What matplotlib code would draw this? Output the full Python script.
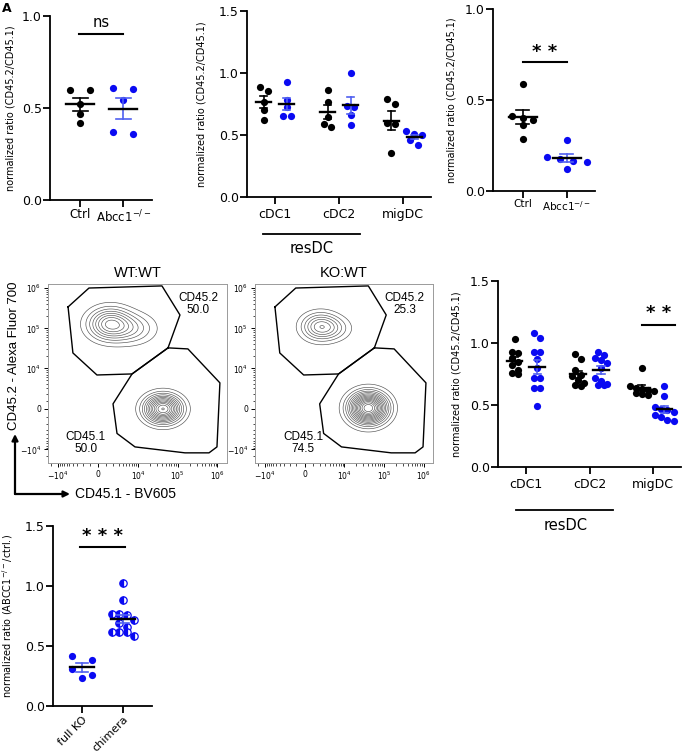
import numpy as np
import matplotlib.pyplot as plt

plt.rcParams['font.family'] = 'DejaVu Sans'

W, H = 682, 754
BLUE = '#0a0af2'
EBLUE = '#5060f0'

# ---- values ----
a_groups = ['Ctrl', 'Abcc1$^{-/-}$']
a_ctrl = [0.60, 0.598, 0.52, 0.47, 0.42]
a_ko = [0.607, 0.605, 0.543, 0.371, 0.357]

b_cats = ['cDC1', 'cDC2', 'migDC']
b_wt = [[0.885, 0.856, 0.77, 0.698, 0.622],
        [0.864, 0.77, 0.649, 0.588, 0.561],
        [0.794, 0.749, 0.596, 0.588, 0.354]]
b_ko = [[0.931, 0.783, 0.724, 0.657, 0.655],
        [0.998, 0.73, 0.728, 0.663, 0.582],
        [0.53, 0.51, 0.50, 0.46, 0.42]]

c_groups = ['Ctrl', 'Abcc1$^{-/-}$']
c_ctrl = [0.586, 0.41, 0.40, 0.39, 0.365, 0.286]
c_ko = [0.280, 0.189, 0.174, 0.165, 0.158, 0.121]

e_cats = ['cDC1', 'cDC2', 'migDC']
e_wt = [[1.03, 0.93, 0.92, 0.88, 0.85, 0.82, 0.78, 0.76, 0.75],
        [0.91, 0.87, 0.78, 0.74, 0.73, 0.70, 0.68, 0.66, 0.65],
        [0.80, 0.65, 0.64, 0.63, 0.62, 0.61, 0.60, 0.59, 0.58]]
e_ko = [[1.077, 1.04, 0.93, 0.93, 0.87, 0.80, 0.72, 0.715, 0.64, 0.64, 0.49],
        [0.93, 0.90, 0.88, 0.86, 0.84, 0.80, 0.72, 0.69, 0.67, 0.66, 0.66],
        [0.654, 0.57, 0.48, 0.47, 0.46, 0.44, 0.42, 0.40, 0.38, 0.37]]

f_groups = ['full KO', 'chimera']
f_full = [0.417, 0.386, 0.311, 0.256, 0.236]
f_chim = [1.025, 0.886, 0.764, 0.764, 0.756, 0.72, 0.694, 0.66, 0.617, 0.617, 0.617, 0.583]

# flow panels (arcsinh units, cofactor 2000)
flow_titles = ['WT:WT', 'KO:WT']
flow_hi = ['50.0', '25.3']
flow_lo = ['50.0', '74.5']
# populations: x, y, sx, sy, weight
flow_pops = [
    [(0.7, 4.85, 0.72, 0.52, 0.36), (1.9, 4.6, 0.8, 0.5, 0.14), (3.76, 0.0, 0.6, 0.45, 0.5)],
    [(0.9, 4.7, 0.62, 0.45, 0.20), (1.7, 4.6, 0.6, 0.4, 0.05), (3.7, 0.05, 0.62, 0.5, 0.75)],
]
gate_hi_x = [-1.73, -0.52, 3.70, 4.74, 4.05, 1.97, -0.06, -1.45, -1.73]
gate_hi_y = [5.83, 6.91, 7.03, 5.37, 3.49, 2.00, 1.94, 3.20, 5.83]
gate_lo_x = [4.05, 5.20, 7.05, 6.88, 6.42, 5.03, 2.14, 1.10, 0.87, 1.97, 4.05]
gate_lo_y = [3.49, 3.43, 1.49, -2.17, -2.51, -2.51, -2.17, -1.40, 0.29, 2.00, 3.49]

fig = plt.figure(figsize=(W / 100, H / 100), dpi=100)


def rect(l, t, r, b):
    return [l / W, 1 - b / H, (r - l) / W, (b - t) / H]


def style(ax, ylim, yticks, ylabel, lx):
    for s in ['top', 'right']:
        ax.spines[s].set_visible(False)
    for s in ['left', 'bottom']:
        ax.spines[s].set_linewidth(1.3)
    ax.set_ylim(*ylim)
    ax.set_yticks(yticks)
    ax.set_yticklabels(['%.1f' % t for t in yticks])
    ax.tick_params(length=5, width=1.3, labelsize=9, pad=1)
    ax.set_ylabel(ylabel, fontsize=7)
    ax.yaxis.set_label_coords(lx, 0.5)


def swarm(vals, spacing, thresh):
    order = np.argsort(vals)[::-1]
    offs = np.zeros(len(vals))
    i = 0
    while i < len(order):
        row = [order[i]]
        j = i + 1
        while j < len(order) and vals[order[i]] - vals[order[j]] < thresh:
            row.append(order[j])
            j += 1
        for k, idx in enumerate(row):
            offs[idx] = (k - (len(row) - 1) / 2) * spacing
        i = j
    return offs


def dots(ax, x, vals, color, spacing, thresh, half=False):
    v = np.asarray(vals, float)
    xs = x + swarm(v, spacing, thresh)
    if half:
        ax.plot(xs, v, 'o', ls='none', ms=5.3, fillstyle='left', mfc=color,
                mfcalt='white', mec=color, mew=0.9, zorder=3)
    else:
        ax.scatter(xs, v, s=27, color=color, linewidths=0, zorder=3)


def meanbar(ax, x, vals, mw, cw, ecolor):
    v = np.asarray(vals, float)
    m = v.mean()
    s = v.std(ddof=1) / np.sqrt(len(v))
    ax.plot([x, x], [m - s, m + s], color=ecolor, lw=1.2, zorder=5)
    for y in (m - s, m + s):
        ax.plot([x - cw / 2, x + cw / 2], [y, y], color=ecolor, lw=1.2, zorder=5)
    ax.plot([x - mw / 2, x + mw / 2], [m, m], color='k', lw=1.7, zorder=6)


def sig(ax, x0, x1, y, ty, txt, size):
    ax.plot([x0, x1], [y, y], color='k', lw=1.5, clip_on=False)
    ax.text((x0 + x1) / 2, ty, txt, ha='center', va='center', fontsize=size,
            fontweight='bold' if '*' in txt else 'normal')


ylab = 'normalized ratio (CD45.2/CD45.1)'

# ---- A ----
ax = fig.add_axes(rect(50, 16, 152, 200))
style(ax, (0, 1.0), [0, 0.5, 1.0], ylab, -0.34)
ax.set_xlim(-0.7, 1.67)
dots(ax, 0, a_ctrl, 'k', 0.46, 0.038)
dots(ax, 1, a_ko, BLUE, 0.46, 0.038)
meanbar(ax, 0, a_ctrl, 0.65, 0.35, 'k')
meanbar(ax, 1, a_ko, 0.65, 0.35, EBLUE)
ax.set_xticks([0, 1])
ax.set_xticklabels(a_groups, fontsize=8.5)
sig(ax, -0.02, 1.0, 0.90, 0.965, 'ns', 10.5)

# ---- B ----
ax = fig.add_axes(rect(247, 11, 431, 197))
style(ax, (0, 1.5), [0, 0.5, 1.0, 1.5], ylab, -0.22)
ax.set_xlim(-0.44, 2.44)
for i in range(3):
    dots(ax, i - 0.18, b_wt[i], 'k', 0.125, 0.056)
    dots(ax, i + 0.18, b_ko[i], BLUE, 0.125, 0.056)
    meanbar(ax, i - 0.18, b_wt[i], 0.23, 0.12, 'k')
    meanbar(ax, i + 0.18, b_ko[i], 0.23, 0.12, EBLUE)
ax.set_xticks(range(3))
ax.set_xticklabels(b_cats, fontsize=9)
ax.tick_params(axis='x', pad=3)
ax.plot([-0.19, 1.33], [-0.20, -0.20], transform=ax.get_xaxis_transform(),
        color='k', lw=1.3, clip_on=False)
ax.text(0.57, -0.275, 'resDC', transform=ax.get_xaxis_transform(),
        ha='center', va='center', fontsize=10.5)

# ---- C ----
ax = fig.add_axes(rect(493, 9, 595, 191))
style(ax, (0, 1.0), [0, 0.5, 1.0], ylab, -0.36)
ax.set_xlim(-0.68, 1.64)
dots(ax, 0, c_ctrl, 'k', 0.24, 0.038)
dots(ax, 1, c_ko, BLUE, 0.3, 0.038)
meanbar(ax, 0, c_ctrl, 0.64, 0.3, 'k')
meanbar(ax, 1, c_ko, 0.64, 0.3, EBLUE)
ax.set_xticks([0, 1])
ax.set_xticklabels(c_groups, fontsize=7.5)
sig(ax, 0, 1, 0.71, 0.765, '* *', 13)

# ---- E ----
ax = fig.add_axes(rect(498, 281, 681, 467))
style(ax, (0, 1.5), [0, 0.5, 1.0, 1.5], ylab, -0.20)
ax.set_xlim(-0.44, 2.44)
for i in range(3):
    dots(ax, i - 0.18, e_wt[i], 'k', 0.095, 0.05)
    dots(ax, i + 0.18, e_ko[i], BLUE, 0.095, 0.05)
    meanbar(ax, i - 0.18, e_wt[i], 0.25, 0.12, 'k')
    meanbar(ax, i + 0.18, e_ko[i], 0.25, 0.12, EBLUE)
ax.set_xticks(range(3))
ax.set_xticklabels(e_cats, fontsize=9)
ax.tick_params(axis='x', pad=3)
ax.plot([-0.15, 1.37], [-0.23, -0.23], transform=ax.get_xaxis_transform(),
        color='k', lw=1.3, clip_on=False)
ax.text(0.62, -0.315, 'resDC', transform=ax.get_xaxis_transform(),
        ha='center', va='center', fontsize=10.5)
sig(ax, 1.83, 2.35, 1.145, 1.245, '* *', 13)

# ---- F ----
ax = fig.add_axes(rect(53, 526, 152, 706))
style(ax, (0, 1.5), [0, 0.5, 1.0, 1.5], 'normalized ratio (ABCC1$^{-/-}$/ctrl.)', -0.38)
ax.set_xlim(-0.71, 1.71)
dots(ax, 0, f_full, BLUE, 0.49, 0.058)
dots(ax, 1, f_chim, BLUE, 0.18, 0.05, half=True)
meanbar(ax, 0, f_full, 0.57, 0.3, EBLUE)
meanbar(ax, 1, f_chim, 0.57, 0.3, EBLUE)
ax.set_xticks([0, 1])
ax.set_xticklabels(f_groups, fontsize=8, rotation=45, ha='right', rotation_mode='anchor')
sig(ax, -0.05, 1.05, 1.325, 1.42, '* * *', 13)

# ---- flow plots ----
cof = 2000.0


def fwd(v):
    return np.arcsinh(np.asarray(v, float) / cof)


def inv(u):
    return cof * np.sinh(np.asarray(u, float))


ux = np.linspace(-2.89, 7.46, 320)
uy = np.linspace(-3.09, 7.14, 320)
UX, UY = np.meshgrid(ux, uy)
levels = 0.42 * (np.arange(1, 18) / 17.0) ** 1.35
major = [-1e4, 0, 1e4, 1e5, 1e6]
major_lab = ['$-10^4$', '0', '$10^4$', '$10^5$', '$10^6$']
minor = sorted(set([-k * 1e3 for k in range(1, 10)] + [k * 1e3 for k in range(1, 10)]
                   + [k * 1e4 for k in range(2, 10)] + [k * 1e5 for k in range(2, 10)]
                   + [-1.5e4]))

for p, (l, r) in enumerate([(48, 227), (255, 433)]):
    ax = fig.add_axes(rect(l, 284, r, 463))
    ax.set_xscale('function', functions=(fwd, inv))
    ax.set_yscale('function', functions=(fwd, inv))
    ax.set_xlim(inv(-2.89), inv(7.46))
    ax.set_ylim(inv(-3.09), inv(7.14))
    Z = np.zeros_like(UX)
    for cx, cy, sx, sy, w in flow_pops[p]:
        Z += w / (2 * np.pi * sx * sy) * np.exp(-0.5 * ((UX - cx) / sx) ** 2 - 0.5 * ((UY - cy) / sy) ** 2)
    ax.contour(inv(UX), inv(UY), Z, levels=levels, colors='#505050', linewidths=0.45)
    ax.plot(inv(gate_hi_x), inv(gate_hi_y), color='k', lw=1.0)
    ax.plot(inv(gate_lo_x), inv(gate_lo_y), color='k', lw=1.0)
    for s in ax.spines.values():
        s.set_color('#9a9a9a')
        s.set_linewidth(0.7)
    for axis in (ax.xaxis, ax.yaxis):
        axis.set_ticks(major)
        axis.set_ticklabels(major_lab)
        axis.set_ticks(minor, minor=True)
    ax.tick_params(which='major', length=3, width=0.7, labelsize=5.5, pad=2)
    ax.tick_params(which='minor', length=1.8, width=0.5)
    ax.set_title(flow_titles[p], fontsize=10.5, family='Liberation Sans', pad=5)
    ax.text(0.84, 0.89, 'CD45.2\n' + flow_hi[p], transform=ax.transAxes, ha='center',
            va='center', fontsize=8.5, family='Liberation Sans', linespacing=1.0)
    ax.text(0.21 if p == 0 else 0.27, 0.11, 'CD45.1\n' + flow_lo[p], transform=ax.transAxes,
            ha='center', va='center', fontsize=8.5, family='Liberation Sans', linespacing=1.0)

fig.text(14 / W, 1 - 356 / H, 'CD45.2 - Alexa Fluor 700', rotation=90, ha='center',
         va='center', fontsize=9.5, family='Liberation Sans')
fig.text(75 / W, 1 - 494 / H, 'CD45.1 - BV605', ha='left', va='center',
         fontsize=10, family='Liberation Sans')
for end in [(15, H - 434), (70, H - 494)]:
    fig.add_artist(plt.Annotation('', xy=end, xytext=(15, H - 494), xycoords='figure pixels',
                                  textcoords='figure pixels',
                                  arrowprops=dict(arrowstyle='-|>', lw=1.6, color='k',
                                                  shrinkA=0, shrinkB=0, mutation_scale=9)))

fig.text(2 / W, 1 - 2 / H, 'A', ha='left', va='top', fontsize=9, fontweight='bold')

fig.savefig('out.png', dpi=100)
